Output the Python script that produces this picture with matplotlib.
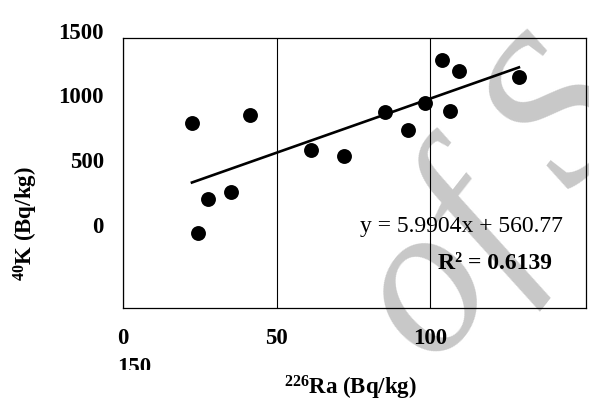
import matplotlib
matplotlib.use("Agg")
import matplotlib.pyplot as plt
import numpy as np
from matplotlib.transforms import Bbox, TransformedBbox

# values
ra_226 = [22.4, 24.3, 27.8, 35.0, 41.2, 61.1, 72.1, 85.5, 92.8, 98.6, 104.1, 106.5, 109.5, 129.1]
k_40 = [1026, 415, 604, 641, 1071, 876, 843, 1089, 987, 1139, 1376, 1091, 1315, 1283]

# trendline as printed on the chart
slope = 5.9904
intercept = 560.77
r_squared = 0.6139

x_ticks = [0, 50, 100]
y_ticks = [0, 500, 1000, 1500]

plt.rcParams.update({
    "font.family": "Liberation Serif",
    "mathtext.fontset": "custom",
    "mathtext.rm": "Liberation Serif",
    "mathtext.bf": "Liberation Serif:bold",
    "mathtext.it": "Liberation Serif:italic",
})

fig = plt.figure(figsize=(5.89, 4.06), dpi=100)
W, H = 589, 406


def fx(px):
    return px / W


def fy(py):
    return 1 - py / H


# grey watermark, behind everything
fig.text(fx(497), fy(208), "of S", fontsize=155, style="italic", color="#c8c8c8",
         rotation=52, ha="center", va="center", zorder=-1)

ax = fig.add_axes([fx(123.3), fy(308.7), fx(586 - 123.3), (308.7 - 38.5) / H])
ax.patch.set_visible(False)
ax.scatter(ra_226, k_40, s=115, color="black", zorder=3, linewidths=0)

xs = np.array([min(ra_226), max(ra_226)])
ax.plot(xs, slope * xs + intercept, color="black", lw=1.9, zorder=2)

ax.set_xlim(0, 151)
ax.set_ylim(0, 1500)
ax.set_xticks(x_ticks)
ax.set_xticklabels([str(t) for t in x_ticks], fontsize=16.5, fontweight="bold")
ax.set_yticks([])
ax.tick_params(axis="x", length=0, pad=14)
ax.grid(axis="x", color="black", lw=0.8)
for sp in ax.spines.values():
    sp.set_linewidth(0.9)

# y tick labels sit on their own (misaligned) scale, as in the reference
lab_ax = fig.add_axes([fx(123.3), fy(225), 0.01, (225 - 30.7) / H])
lab_ax.set_ylim(0, 1500)
lab_ax.set_yticks(y_ticks)
lab_ax.set_yticklabels([str(t) for t in y_ticks], fontsize=16.5, fontweight="bold")
lab_ax.tick_params(axis="y", length=0, pad=14)
lab_ax.set_xticks([])
lab_ax.set_frame_on(False)
lab_ax.patch.set_visible(False)

# wrapped "150" label, cut off at the bottom
t150 = fig.text(fx(134.5), fy(368), "150", fontsize=16.5, fontweight="bold",
                ha="center", va="center")
t150.set_clip_box(TransformedBbox(Bbox([[0, fy(370.5)], [1, 1]]), fig.transFigure))
t150.set_clip_on(True)

fig.text(fx(350), fy(388), r"$\mathbf{^{226}Ra\ (Bq/kg)}$", fontsize=16.5,
         ha="center", va="center")
fig.text(fx(26), fy(224), r"$\mathbf{^{40}K\ (Bq/kg)}$", fontsize=16.5,
         ha="center", va="center", rotation=90)

fig.text(fx(461), fy(227), f"y = {slope}x + {intercept}", fontsize=17,
         ha="center", va="center", zorder=5)
fig.text(fx(495), fy(264), f"R² = {r_squared}", fontsize=17, fontweight="bold",
         ha="center", va="center", zorder=5)

fig.savefig("out.png", dpi=100)
